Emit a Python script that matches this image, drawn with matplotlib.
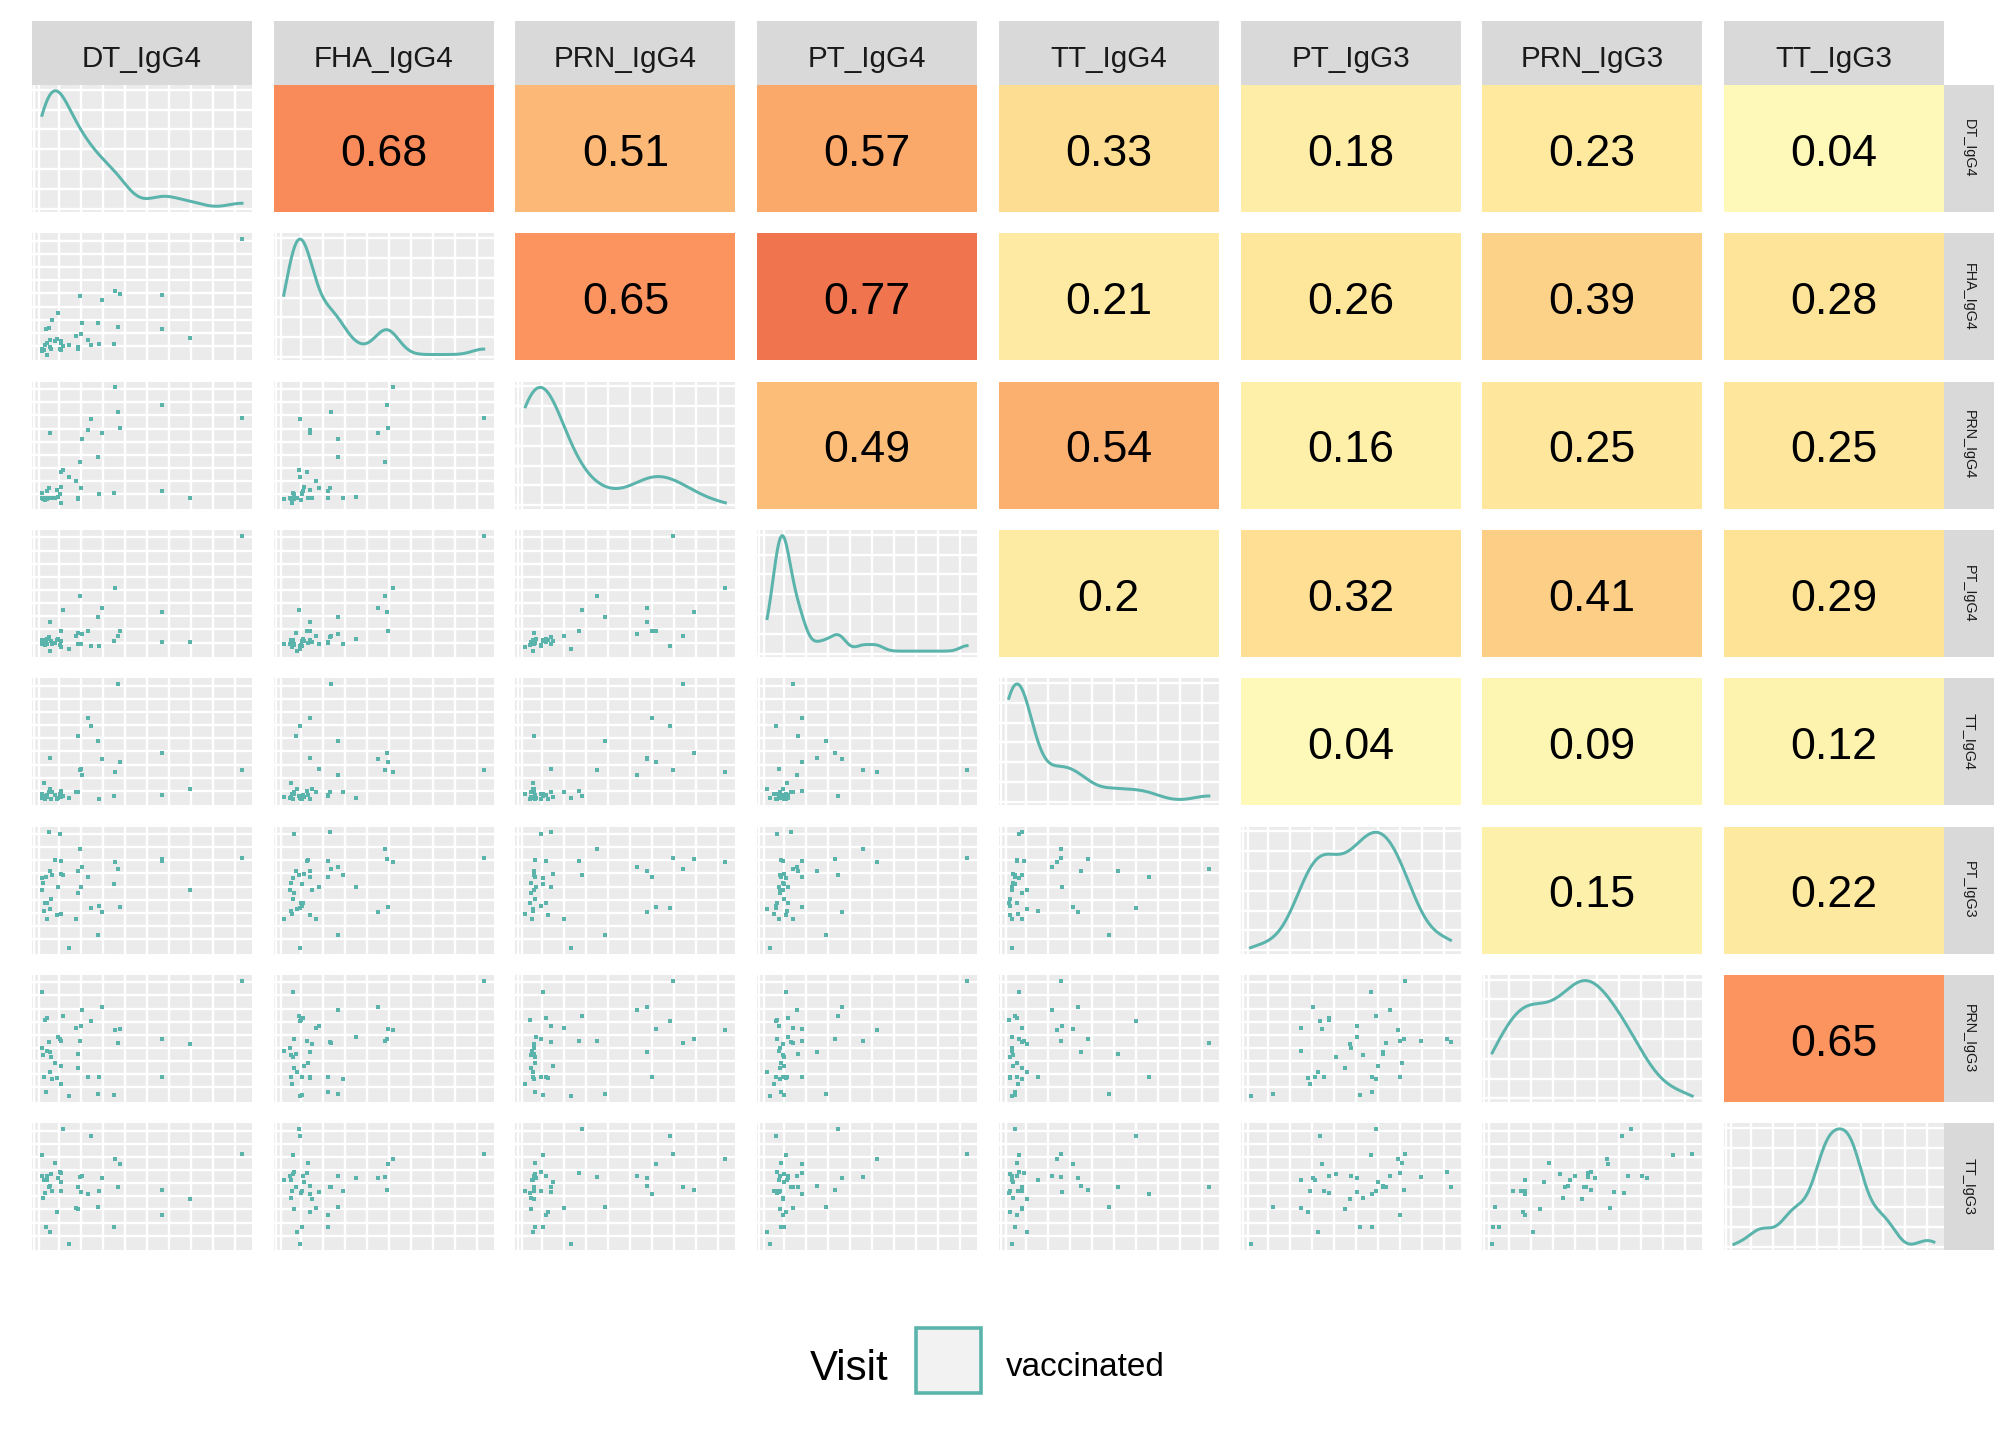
import numpy as np
import matplotlib
matplotlib.use("Agg")
import matplotlib.pyplot as plt
from matplotlib.colors import LinearSegmentedColormap
from matplotlib.patches import Rectangle

plt.rcParams['font.family'] = ['Liberation Sans', 'DejaVu Sans']

variables = ["DT_IgG4", "FHA_IgG4", "PRN_IgG4", "PT_IgG4", "TT_IgG4",
             "PT_IgG3", "PRN_IgG3", "TT_IgG3"]

DT_IgG4 = [0.0, 0.2, 0.4, 1.0, 1.5, 2.0, 2.5, 2.6, 3.5, 4.0, 4.1, 4.5, 5.0, 6.5, 7.5, 8.0, 9.0, 9.4, 9.5, 9.6,
           10.5, 13.5, 17.0, 18.0, 18.1, 19.0, 19.5, 20.0, 23.0, 24.5, 28.0, 28.5, 30.0, 36.0, 36.5, 38.0, 39.0,
           60.0, 60.1, 74.0, 100.0]
FHA_IgG4 = [4.6, 2.9, 3.8, 3.5, 8.4, 22.3, 9.6, 0.0, 22.9, 13.0, 6.4, 4.6, 29.6, 11.9, 13.3, 35.9, 5.2, 11.6, 10.1,
            4.1, 7.5, 8.1, 16.2, 6.1, 4.9, 50.7, 17.7, 27.2, 13.0, 8.1, 27.2, 9.0, 47.0, 9.0, 54.8, 23.8, 52.2,
            51.6, 22.0, 14.2, 100.0]
PRN_IgG4 = [8.7, 4.3, 2.9, 3.8, 2.3, 4.6, 10.4, 3.5, 13.0, 60.9, 3.8, 4.6, 4.1, 4.6, 11.3, 5.2, 7.8, 27.0, 13.9,
            0.0, 28.4, 22.6, 19.1, 4.3, 2.9, 35.7, 13.0, 55.7, 63.5, 72.2, 40.0, 7.8, 60.9, 8.7, 100.0, 78.8, 65.2,
            84.3, 10.4, 4.3, 73.9]
PT_IgG4 = [9.3, 6.4, 7.8, 9.9, 4.9, 7.0, 10.7, 5.8, 12.2, 25.2, 0.0, 8.4, 6.4, 7.2, 9.3, 10.7, 4.9, 17.4, 8.4,
           3.5, 35.7, 1.7, 13.0, 15.7, 6.4, 47.8, 6.1, 14.8, 17.4, 4.3, 29.6, 4.3, 37.4, 8.7, 54.8, 13.0, 17.4,
           33.9, 7.8, 7.8, 100.0]
TT_IgG4 = [4.9, 1.5, 2.3, 14.5, 0.0, 2.9, 4.1, 1.7, 6.7, 36.3, 9.3, 0.6, 6.7, 4.1, 0.6, 1.5, 4.9, 7.6, 2.3,
           4.7, 3.2, 1.5, 6.7, 54.7, 6.7, 25.9, 26.7, 21.5, 70.3, 63.4, 50.3, 0.6, 34.6, 3.2, 24.1, 100.0, 32.0,
           39.8, 4.1, 9.3, 25.9]
PT_IgG3 = [60.0, 50.4, 56.2, 32.2, 39.1, 60.9, 39.1, 25.2, 100.0, 66.1, 33.9, 42.6, 62.6, 75.7, 28.7, 53.0, 98.3,
           74.8, 63.5, 29.6, 62.6, 0.0, 25.2, 66.1, 47.0, 85.2, 53.0, 69.6, 60.9, 34.8, 11.3, 36.5, 31.3, 54.8,
           73.9, 67.8, 35.7, 76.5, 74.8, 49.6, 77.4]
PRN_IgG3 = [90.4, 41.6, 35.5, 16.3, 66.0, 3.2, 67.7, 39.0, 46.8, 38.1, 20.6, 33.7, 14.5, 28.5, 15.4, 51.2, 49.4,
            47.7, 25.9, 10.2, 69.5, 0.0, 59.0, 36.3, 24.1, 47.7, 60.8, 74.7, 16.3, 65.1, 1.5, 16.3, 77.3, 0.6,
            57.3, 45.9, 58.1, 49.4, 16.3, 45.1, 100.0]
TT_IgG3 = [77.4, 59.1, 40.0, 55.7, 44.3, 14.8, 59.1, 55.7, 49.6, 50.4, 10.4, 60.9, 46.1, 70.4, 27.8, 57.4, 62.6,
           61.7, 53.9, 46.1, 100.0, 0.0, 31.3, 49.6, 30.4, 58.3, 45.2, 59.1, 43.5, 93.9, 32.2, 46.1, 57.4, 14.8,
           73.9, 49.6, 69.6, 47.0, 25.2, 39.1, 78.3]

# upper-triangle correlations, row by row
corr_DT = [0.68, 0.51, 0.57, 0.33, 0.18, 0.23, 0.04]
corr_FHA = [0.65, 0.77, 0.21, 0.26, 0.39, 0.28]
corr_PRN = [0.49, 0.54, 0.16, 0.25, 0.25]
corr_PT = [0.2, 0.32, 0.41, 0.29]
corr_TT = [0.04, 0.09, 0.12]
corr_PT3 = [0.15, 0.22]
corr_PRN3 = [0.65]
corr_rows = [corr_DT, corr_FHA, corr_PRN, corr_PT, corr_TT, corr_PT3, corr_PRN3]

legend_title = "Visit"
legend_label = "vaccinated"

data = [np.array(v, dtype=float) for v in
        [DT_IgG4, FHA_IgG4, PRN_IgG4, PT_IgG4, TT_IgG4, PT_IgG3, PRN_IgG3, TT_IgG3]]

TEAL = "#5AB4AC"
PANEL_BG = "#EBEBEB"
STRIP_BG = "#D9D9D9"

cmap = LinearSegmentedColormap.from_list("corr", [
    (0.0, "#FEFCBE"), (0.1, "#FDF5B2"), (0.2, "#FEEBA3"), (0.3, "#FEE296"),
    (0.4, "#FCD087"), (0.5, "#FCBB78"), (0.57, "#FBA96A"), (0.65, "#FC9460"),
    (0.77, "#F0744E"), (1.0, "#E04A35")])

W, H = 2016, 1440
fig = plt.figure(figsize=(W / 144, H / 144), dpi=144)


def box(x0, y0, x1, y1):
    return [x0 / W, 1 - y1 / H, (x1 - x0) / W, (y1 - y0) / H]


def expand(lo, hi, m=0.05):
    d = hi - lo
    return lo - m * d, hi + m * d


def kde(v):
    n = len(v)
    sd = np.std(v, ddof=1)
    q75, q25 = np.percentile(v, [75, 25])
    bw = 0.9 * min(sd, (q75 - q25) / 1.34) * n ** (-0.2)
    xs = np.linspace(v.min(), v.max(), 512)
    ys = np.exp(-0.5 * ((xs[:, None] - v[None, :]) / bw) ** 2).sum(1) / (n * bw * np.sqrt(2 * np.pi))
    return xs, ys


vfrac = [0.01, 0.032] + [0.123 + 0.1 * k for k in range(9)]
hfrac_sc = [0.113 + 0.1035 * k for k in range(9)]
hfrac_den = [0.026 + 0.156 * k for k in range(7)]


def style_grid(ax, xl, yl, hf):
    ax.set_xlim(xl)
    ax.set_ylim(yl)
    ax.set_facecolor(PANEL_BG)
    ax.set_xticks([xl[0] + f * (xl[1] - xl[0]) for f in vfrac])
    ax.set_yticks([yl[0] + f * (yl[1] - yl[0]) for f in hf])
    ax.grid(True, color="white", lw=1.2)
    ax.set_axisbelow(True)
    ax.tick_params(length=0, labelbottom=False, labelleft=False)
    for s in ax.spines.values():
        s.set_visible(False)


n = len(variables)
col_x0 = [32 + k * 241.7 for k in range(n)]
row_y0 = [85 + k * 148.3 for k in range(n)]
PW, PH = 220, 127

for i in range(n):
    for j in range(n):
        x0, y0 = col_x0[j], row_y0[i]
        ax = fig.add_axes(box(x0, y0, x0 + PW, y0 + PH))
        if i == j:
            xs, ys = kde(data[i])
            style_grid(ax, expand(data[i].min(), data[i].max()), expand(ys.min(), ys.max()), hfrac_den)
            ax.plot(xs, ys, color=TEAL, lw=1.5)
        elif i > j:
            style_grid(ax, expand(data[j].min(), data[j].max()),
                       expand(data[i].min(), data[i].max()), hfrac_sc)
            ax.scatter(data[j], data[i], s=5, marker="s", color=TEAL, linewidths=0)
        else:
            val = corr_rows[i][j - i - 1]
            ax.set_facecolor(cmap(val))
            ax.set_xticks([])
            ax.set_yticks([])
            for s in ax.spines.values():
                s.set_visible(False)
            ax.text(0.5, 0.49, f"{val:g}", ha="center", va="center_baseline", fontsize=22.4,
                    color="black", transform=ax.transAxes)

# top strips
for j in range(n):
    x0 = col_x0[j]
    sax = fig.add_axes(box(x0, 21, x0 + PW, 85))
    sax.set_facecolor(STRIP_BG)
    sax.set_xticks([]); sax.set_yticks([])
    for s in sax.spines.values():
        s.set_visible(False)
    sax.text(0.5, 0.45, variables[j], ha="center", va="center_baseline", fontsize=14.8,
             color="#1A1A1A", transform=sax.transAxes)

# right strips
for i in range(n):
    y0 = row_y0[i]
    sax = fig.add_axes(box(1944, y0, 1994, y0 + PH))
    sax.set_facecolor(STRIP_BG)
    sax.set_xticks([]); sax.set_yticks([])
    for s in sax.spines.values():
        s.set_visible(False)
    sax.text(0.5, 0.5, variables[i], ha="center", va="center", fontsize=7.2, rotation=-90,
             color="#1A1A1A", transform=sax.transAxes)

# legend
fig.text(810 / W, 1 - 1365 / H, legend_title, ha="left", va="center_baseline", fontsize=21, color="black")
fig.patches.append(Rectangle((916 / W, 1 - 1393 / H), 65 / W, 65 / H, transform=fig.transFigure,
                             facecolor="#F2F2F2", edgecolor=TEAL, lw=1.8))
fig.text(1006 / W, 1 - 1364 / H, legend_label, ha="left", va="center_baseline", fontsize=16.6, color="black")

fig.savefig("out.png", dpi=144)
